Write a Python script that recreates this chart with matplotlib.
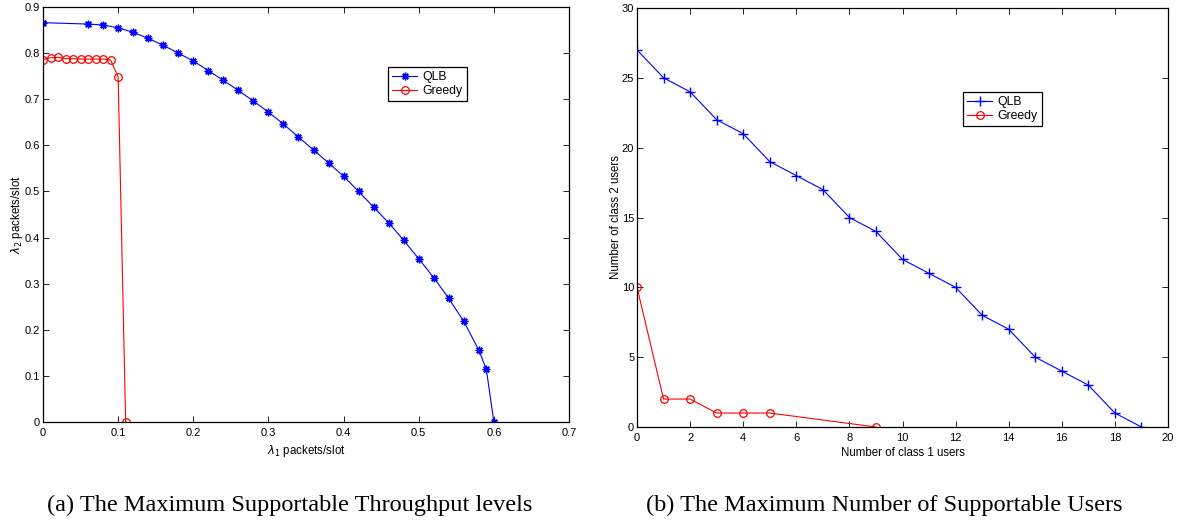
import matplotlib
matplotlib.use("Agg")
import matplotlib.pyplot as plt

# Left panel data
qlb_l1 = [0.0, 0.06, 0.08, 0.10, 0.12, 0.14, 0.16, 0.18, 0.20, 0.22, 0.24, 0.26, 0.28, 0.30,
          0.32, 0.34, 0.36, 0.38, 0.40, 0.42, 0.44, 0.46, 0.48, 0.50, 0.52, 0.54, 0.56, 0.58, 0.59, 0.60]
qlb_l2 = [0.866, 0.863, 0.861, 0.855, 0.845, 0.832, 0.817, 0.800, 0.783, 0.762, 0.741, 0.719, 0.696, 0.672,
          0.646, 0.618, 0.590, 0.562, 0.533, 0.500, 0.466, 0.432, 0.394, 0.354, 0.313, 0.268, 0.218, 0.156, 0.114, 0.0]
greedy_l1 = [0.0, 0.01, 0.02, 0.03, 0.04, 0.05, 0.06, 0.07, 0.08, 0.09, 0.10, 0.11]
greedy_l2 = [0.786, 0.790, 0.791, 0.788, 0.788, 0.787, 0.787, 0.787, 0.787, 0.785, 0.748, 0.0]

# Right panel data
qlb_n1 = list(range(0, 20))
qlb_n2 = [27, 25, 24, 22, 21, 19, 18, 17, 15, 14, 12, 11, 10, 8, 7, 5, 4, 3, 1, 0]
greedy_n1 = [0, 1, 2, 3, 4, 5, 9]
greedy_n2 = [10, 2, 2, 1, 1, 1, 0]

left_xticks = [0, 0.1, 0.2, 0.3, 0.4, 0.5, 0.6, 0.7]
left_yticks = [0, 0.1, 0.2, 0.3, 0.4, 0.5, 0.6, 0.7, 0.8, 0.9]
right_xticks = list(range(0, 21, 2))
right_yticks = list(range(0, 31, 5))

W, H = 1178, 523
fig = plt.figure(figsize=(W / 100, H / 100), dpi=100)
sans = ["Liberation Sans", "DejaVu Sans"]
tick_fs = 8.0
lab_fs = 8.3
asterisk = (8, 2, 0)

def style(ax):
    ax.tick_params(direction="in", top=True, right=True, length=4, width=0.6,
                   labelsize=tick_fs)
    ax.tick_params(axis="x", pad=4)
    ax.tick_params(axis="y", pad=2)
    for lab in ax.get_xticklabels() + ax.get_yticklabels():
        lab.set_family(sans)
    for s in ax.spines.values():
        s.set_linewidth(0.9)

leg_kw = dict(frameon=True, fancybox=False, edgecolor="black", framealpha=1,
              borderpad=0.35, labelspacing=0.15, handlelength=2.05, handletextpad=0.4,
              borderaxespad=0, prop={"family": sans, "size": 8.8})

# Left axes: x 43..569, y 7..422
ax1 = fig.add_axes([43 / W, 1 - 422 / H, (569 - 43) / W, (422 - 7) / H])
ax1.plot(qlb_l1, qlb_l2, color="blue", marker=asterisk, markersize=5.5, markeredgewidth=1.0,
         linewidth=0.8, label="QLB")
ax1.plot(greedy_l1, greedy_l2, color="red", marker="o", markersize=5.5, markerfacecolor="none",
         markeredgewidth=0.9, linewidth=0.8, label="Greedy")
ax1.set_xlim(0, 0.7)
ax1.set_ylim(0, 0.9)
ax1.set_xticks(left_xticks)
ax1.set_yticks(left_yticks)
ax1.set_xticklabels([("%g" % v) for v in left_xticks])
ax1.set_yticklabels([("%g" % v) for v in left_yticks])
style(ax1)
ax1.set_xlabel(r"$\lambda_1$ packets/slot", fontsize=lab_fs, family=sans, labelpad=4)
ax1.set_ylabel(r"$\lambda_2$ packets/slot", fontsize=lab_fs, family=sans, labelpad=0)
leg1 = ax1.legend(loc="upper left", bbox_to_anchor=((388 - 43) / (569 - 43), 1 - (67 - 7) / (422 - 7)),
                  **leg_kw)
leg1.get_frame().set_linewidth(0.9)

# Right axes: x 637..1168, y 8..427
ax2 = fig.add_axes([637 / W, 1 - 427 / H, (1168 - 637) / W, (427 - 8) / H])
ax2.plot(qlb_n1, qlb_n2, color="blue", marker="+", markersize=7, markeredgewidth=1.0,
         linewidth=0.8, label="QLB")
ax2.plot(greedy_n1, greedy_n2, color="red", marker="o", markersize=5.5, markerfacecolor="none",
         markeredgewidth=0.9, linewidth=0.8, label="Greedy")
ax2.set_xlim(0, 20)
ax2.set_ylim(0, 30)
ax2.set_xticks(right_xticks)
ax2.set_yticks(right_yticks)
style(ax2)
ax2.set_xlabel("Number of class 1 users", fontsize=lab_fs, family=sans, labelpad=3)
ax2.set_ylabel("Number of class 2 users", fontsize=lab_fs, family=sans, labelpad=0)
leg2 = ax2.legend(loc="upper left", bbox_to_anchor=((963 - 637) / (1168 - 637), 1 - (92 - 8) / (427 - 8)),
                  **leg_kw)
leg2.get_frame().set_linewidth(0.9)

serif = ["Liberation Serif", "DejaVu Serif"]
fig.text(290 / W, 1 - 510.5 / H, "(a) The Maximum Supportable Throughput levels",
         ha="center", va="baseline", fontsize=17.5, family=serif)
fig.text(884 / W, 1 - 510.5 / H, "(b) The Maximum Number of Supportable Users",
         ha="center", va="baseline", fontsize=17.5, family=serif)

fig.savefig("out.png", dpi=100)
